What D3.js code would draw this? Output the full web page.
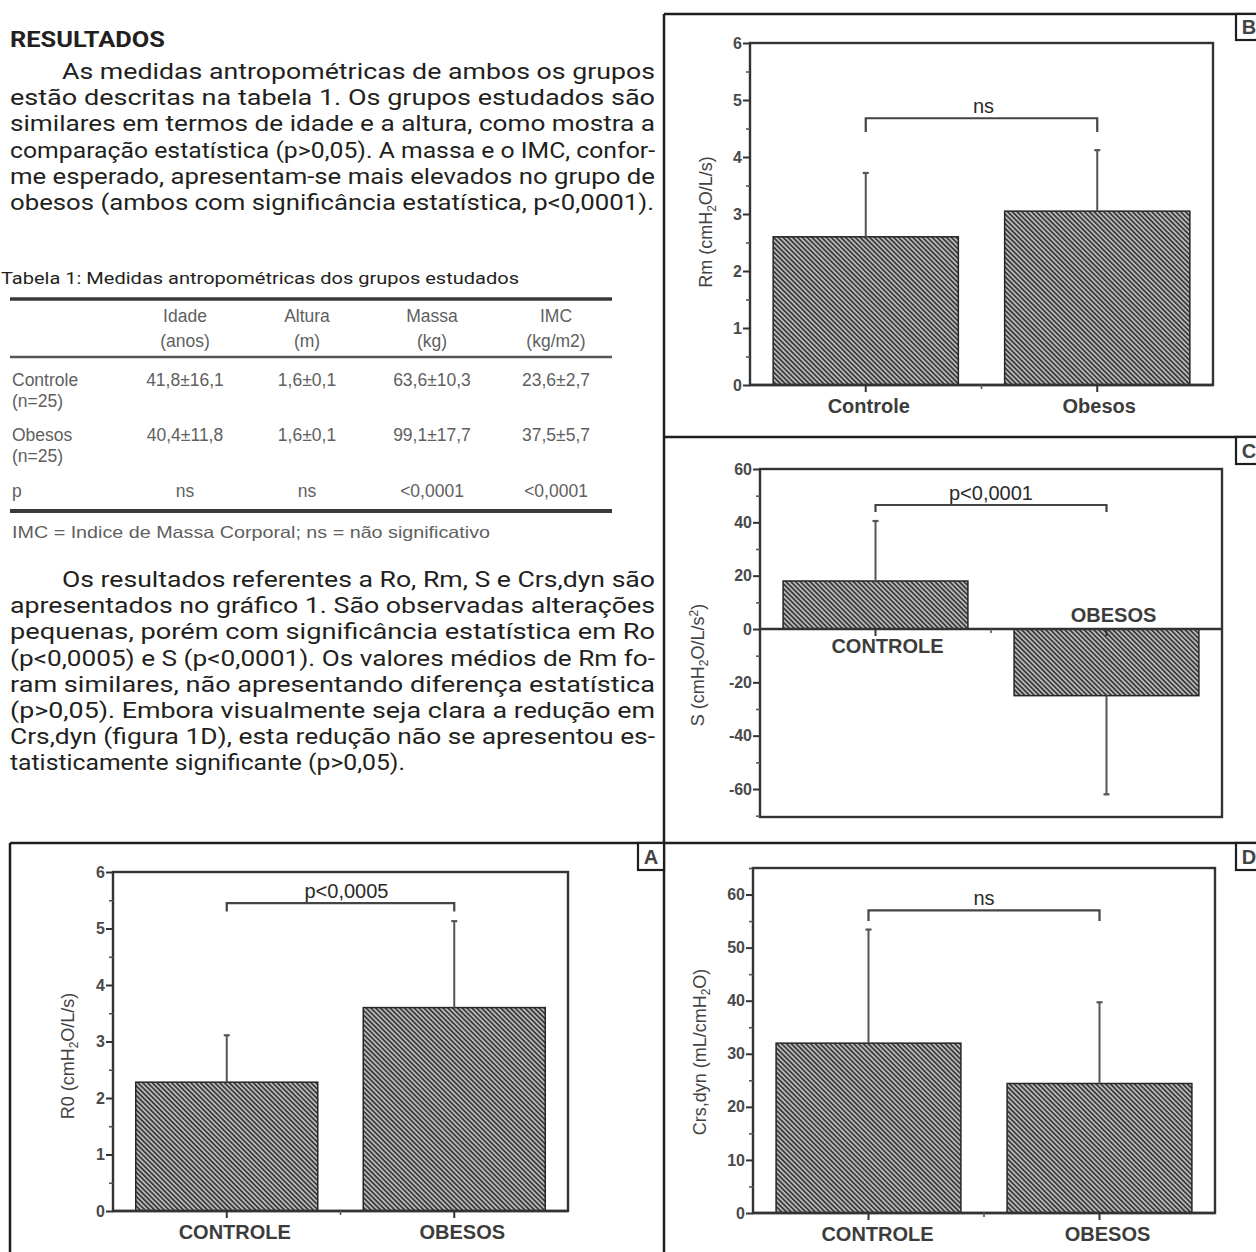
<!DOCTYPE html>
<html><head><meta charset="utf-8">
<script src="https://cdn.jsdelivr.net/npm/d3@7"></script>
<style>body{margin:0;background:#fff}</style>
</head><body>
<svg id="page" width="1256" height="1252" xmlns="http://www.w3.org/2000/svg"></svg>
<script>
// ---------------- DATA ----------------
const categoriesUpper = ["CONTROLE", "OBESOS"];
const categoriesMixed = ["Controle", "Obesos"];

const roMeans  = [2.28, 3.60];   const roSD  = [0.83, 1.53];
const rmMeans  = [2.60, 3.05];   const rmSD  = [1.12, 1.07];
const sMeans   = [18, -25];      const sSD   = [22.5, 37];
const crsMeans = [32, 24.4];     const crsSD = [21.4, 15.3];

const ticksR   = [0, 1, 2, 3, 4, 5, 6];
const minorR   = [0.5, 1.5, 2.5, 3.5, 4.5, 5.5];
const ticksS   = [-60, -40, -20, 0, 20, 40, 60];
const minorS   = [-70, -50, -30, -10, 10, 30, 50];
const ticksCrs = [0, 10, 20, 30, 40, 50, 60];
const minorCrs = [5, 15, 25, 35, 45, 55, 65];

const sigA = "p<0,0005", sigB = "ns", sigC = "p<0,0001", sigD = "ns";
const bracketA = [5.45, 5.3], bracketB = [4.68, 4.44], bracketC = [46.5, 43.9], bracketD = [57, 55];

const para1Title = "RESULTADOS";
const para1Lines = [
  "As medidas antropométricas de ambos os grupos",
  "estão descritas na tabela 1. Os grupos estudados são",
  "similares em termos de idade e a altura, como mostra a",
  "comparação estatística (p>0,05). A massa e o IMC, confor-",
  "me esperado, apresentam-se mais elevados no grupo de",
  "obesos (ambos com significância estatística, p<0,0001)."
];
const para2Lines = [
  "Os resultados referentes a Ro, Rm, S e Crs,dyn são",
  "apresentados no gráfico 1. São observadas alterações",
  "pequenas, porém com significância estatística em Ro",
  "(p<0,0005) e S (p<0,0001). Os valores médios de Rm fo-",
  "ram similares, não apresentando diferença estatística",
  "(p>0,05). Embora visualmente seja clara a redução em",
  "Crs,dyn (figura 1D), esta redução não se apresentou es-",
  "tatisticamente significante (p>0,05)."
];
const tableCaption = "Tabela 1: Medidas antropométricas dos grupos estudados";
const tableColumns = ["Idade", "Altura", "Massa", "IMC"];
const tableUnits   = ["(anos)", "(m)", "(kg)", "(kg/m2)"];
const rowLabels    = [["Controle", "(n=25)"], ["Obesos", "(n=25)"], ["p"]];
const controleVals = ["41,8±16,1", "1,6±0,1", "63,6±10,3", "23,6±2,7"];
const obesosVals   = ["40,4±11,8", "1,6±0,1", "99,1±17,7", "37,5±5,7"];
const pVals        = ["ns", "ns", "<0,0001", "<0,0001"];
const tableNote    = "IMC = Indice de Massa Corporal; ns = não significativo";

// ---------------- SETUP ----------------
const svg = d3.select("#page");
svg.append("rect").attr("width", 1256).attr("height", 1252).attr("fill", "#fff");
const defs = svg.append("defs");
const pat = defs.append("pattern").attr("id", "hatch").attr("patternUnits", "userSpaceOnUse")
  .attr("width", 3.4).attr("height", 3.4).attr("patternTransform", "rotate(-45)");
pat.append("rect").attr("width", 3.4).attr("height", 3.4).attr("fill", "#b8b8b8");
pat.append("line").attr("x1", 1.7).attr("x2", 1.7).attr("y1", -1).attr("y2", 5)
  .attr("stroke", "#333").attr("stroke-width", 1.6);

const TEXT_FONT = "Roboto, 'Liberation Sans', sans-serif";
const ARIAL = "'Liberation Sans', Arial, sans-serif";

// ---------------- PARAGRAPHS ----------------
function drawParagraph(lines, startY, lineH, indentX, leftX, rightX, lastW) {
  const g = svg.append("g").attr("font-family", TEXT_FONT).attr("font-size", 22).attr("fill", "#231f20");
  lines.forEach((s, i) => {
    const x0 = i === 0 ? indentX : leftX;
    const w = i === lines.length - 1 ? lastW : rightX - x0;
    g.append("text").attr("x", x0).attr("y", startY + i * lineH)
      .attr("textLength", w).attr("lengthAdjust", "spacingAndGlyphs").text(s);
  });
}
svg.append("text").attr("x", 10).attr("y", 47).attr("font-family", TEXT_FONT)
  .attr("font-size", 22).attr("font-weight", "bold").attr("fill", "#231f20")
  .attr("textLength", 155).attr("lengthAdjust", "spacingAndGlyphs").text(para1Title);
drawParagraph(para1Lines, 79, 26.2, 62, 10, 655, 644);
drawParagraph(para2Lines, 587, 26.2, 62, 10, 655, 395);

// ---------------- TABLE ----------------
svg.append("text").attr("x", 1).attr("y", 284).attr("font-family", TEXT_FONT).attr("font-size", 17)
  .attr("fill", "#231f20").attr("textLength", 518).attr("lengthAdjust", "spacingAndGlyphs").text(tableCaption);
const tg = svg.append("g").attr("font-family", ARIAL).attr("font-size", 17.5).attr("fill", "#606060");
const colX = [185, 307, 432, 556];
tg.append("line").attr("x1", 10).attr("x2", 612).attr("y1", 299).attr("y2", 299).attr("stroke", "#3a3a3a").attr("stroke-width", 3.5);
tg.append("line").attr("x1", 10).attr("x2", 612).attr("y1", 357).attr("y2", 357).attr("stroke", "#555").attr("stroke-width", 2.5);
tg.append("line").attr("x1", 10).attr("x2", 612).attr("y1", 511).attr("y2", 511).attr("stroke", "#3a3a3a").attr("stroke-width", 4);
tableColumns.forEach((c, i) => {
  tg.append("text").attr("x", colX[i]).attr("y", 322).attr("text-anchor", "middle").text(c);
  tg.append("text").attr("x", colX[i]).attr("y", 347).attr("text-anchor", "middle").text(tableUnits[i]);
});
const rowY = [386, 441, 497];
rowLabels.forEach((lab, r) => {
  lab.forEach((s, k) => tg.append("text").attr("x", 12).attr("y", rowY[r] + k * 20.5).text(s));
});
[controleVals, obesosVals, pVals].forEach((vals, r) => {
  vals.forEach((v, i) => tg.append("text").attr("x", colX[i]).attr("y", rowY[r]).attr("text-anchor", "middle").text(v));
});
tg.append("text").attr("x", 12).attr("y", 538).attr("font-size", 16.5).attr("textLength", 478)
  .attr("lengthAdjust", "spacingAndGlyphs").text(tableNote);

// ---------------- FRAMES ----------------
const fr = svg.append("g").attr("stroke", "#1e1e1e").attr("stroke-width", 2.5).attr("fill", "none");
fr.append("line").attr("x1", 664).attr("x2", 1256).attr("y1", 14).attr("y2", 14);
fr.append("line").attr("x1", 664).attr("x2", 664).attr("y1", 14).attr("y2", 1252);
fr.append("line").attr("x1", 664).attr("x2", 1256).attr("y1", 437).attr("y2", 437);
fr.append("line").attr("x1", 10).attr("x2", 1256).attr("y1", 843).attr("y2", 843);
fr.append("line").attr("x1", 10).attr("x2", 10).attr("y1", 843).attr("y2", 1252);
function letterBox(x, y, w, h, letter) {
  svg.append("rect").attr("x", x).attr("y", y).attr("width", w).attr("height", h)
    .attr("fill", "#fff").attr("stroke", "#1e1e1e").attr("stroke-width", 2.2);
  svg.append("text").attr("x", x + 13).attr("y", y + h / 2 + 7).attr("text-anchor", "middle")
    .attr("font-family", ARIAL).attr("font-weight", "bold").attr("font-size", 20).attr("fill", "#444").text(letter);
}
letterBox(1236, 14, 26, 26, "B");
letterBox(1236, 437, 26, 27, "C");
letterBox(1236, 843, 26, 27, "D");
letterBox(638, 843, 26, 27, "A");

// ---------------- CHARTS ----------------
function drawBarChart(cfg) {
  const g = svg.append("g");
  const x = d3.scaleBand().domain(cfg.categories).range([cfg.x0, cfg.x1]).paddingInner(0.2).paddingOuter(0.1);
  const y = d3.scaleLinear().domain(cfg.domain).range([cfg.y1, cfg.y0]);
  const cx = c => x(c) + x.bandwidth() / 2;

  g.selectAll("rect.bar").data(cfg.categories).join("rect").attr("class", "bar")
    .attr("x", d => x(d)).attr("width", x.bandwidth())
    .attr("y", (d, i) => y(Math.max(0, cfg.means[i])))
    .attr("height", (d, i) => Math.abs(y(cfg.means[i]) - y(0)))
    .attr("fill", "url(#hatch)").attr("stroke", "#262626").attr("stroke-width", 1.5);

  cfg.categories.forEach((c, i) => {
    const m = cfg.means[i];
    const e = m >= 0 ? m + cfg.sds[i] : m - cfg.sds[i];
    g.append("line").attr("x1", cx(c)).attr("x2", cx(c)).attr("y1", y(m)).attr("y2", y(e))
      .attr("stroke", "#555").attr("stroke-width", 2);
    g.append("line").attr("x1", cx(c) - 3).attr("x2", cx(c) + 3).attr("y1", y(e)).attr("y2", y(e))
      .attr("stroke", "#555").attr("stroke-width", 2.2);
  });

  g.append("rect").attr("x", cfg.x0).attr("y", cfg.y0).attr("width", cfg.x1 - cfg.x0).attr("height", cfg.y1 - cfg.y0)
    .attr("fill", "none").attr("stroke", "#333").attr("stroke-width", 2.4);
  const y0 = y(0);
  g.append("line").attr("x1", cfg.x0).attr("x2", cfg.x1).attr("y1", y0).attr("y2", y0)
    .attr("stroke", "#333").attr("stroke-width", 2.4);

  const ya = g.append("g").attr("transform", `translate(${cfg.x0},0)`)
    .call(d3.axisLeft(y).tickValues(cfg.ticks).tickSize(7).tickPadding(1).tickFormat(d => String(d)));
  ya.select(".domain").remove();
  ya.selectAll("line").attr("stroke", "#333").attr("stroke-width", 2);
  ya.selectAll("text").attr("font-family", ARIAL).attr("font-size", 16).attr("font-weight", "bold").attr("fill", "#4a4a4a");
  const ym = g.append("g").attr("transform", `translate(${cfg.x0},0)`)
    .call(d3.axisLeft(y).tickValues(cfg.minor).tickSize(4).tickFormat(""));
  ym.select(".domain").remove();
  ym.selectAll("line").attr("stroke", "#555").attr("stroke-width", 1.6);

  cfg.categories.forEach(c => g.append("line").attr("x1", cx(c)).attr("x2", cx(c)).attr("y1", y0).attr("y2", y0 + 7)
    .attr("stroke", "#333").attr("stroke-width", 2));
  const mid = (cx(cfg.categories[0]) + cx(cfg.categories[1])) / 2;
  g.append("line").attr("x1", mid).attr("x2", mid).attr("y1", y0).attr("y2", y0 + 4).attr("stroke", "#555").attr("stroke-width", 1.6);

  cfg.categories.forEach((c, i) => {
    const ly = cfg.flipLabels ? (cfg.means[i] >= 0 ? y0 + 24 : y0 - 7) : y0 + 28;
    g.append("text").attr("x", cx(c) + cfg.labelDx[i]).attr("y", ly).attr("text-anchor", "middle")
      .attr("font-family", ARIAL).attr("font-weight", "bold").attr("font-size", 20).attr("fill", "#3c3c3c").text(c);
  });

  const bx0 = cx(cfg.categories[0]), bx1 = cx(cfg.categories[1]);
  g.append("path").attr("d", `M${bx0},${y(cfg.bracket[1])}V${y(cfg.bracket[0])}H${bx1}V${y(cfg.bracket[1])}`)
    .attr("fill", "none").attr("stroke", "#444").attr("stroke-width", 2.2);
  g.append("text").attr("x", (bx0 + bx1) / 2 + cfg.sigDx).attr("y", y(cfg.bracket[0]) - 5).attr("text-anchor", "middle")
    .attr("font-family", ARIAL).attr("font-size", 20).attr("fill", "#2a2a2a").text(cfg.sig);

  const t = g.append("text").attr("transform", `translate(${cfg.titleX},${cfg.titleY}) rotate(-90)`)
    .attr("text-anchor", "middle").attr("font-family", ARIAL).attr("font-size", 18).attr("fill", "#444");
  cfg.title.forEach(p => {
    const ts = t.append("tspan").text(p.t);
    if (p.s === "sub") ts.attr("dy", 4).attr("font-size", 12);
    if (p.s === "sup") ts.attr("dy", -6).attr("font-size", 12);
    if (p.s === "back") ts.attr("dy", -4);
    if (p.s === "backsup") ts.attr("dy", 6);
  });
}

drawBarChart({ x0: 113, x1: 568, y0: 872, y1: 1211, domain: [0, 6], ticks: ticksR, minor: minorR,
  categories: categoriesUpper, means: roMeans, sds: roSD, bracket: bracketA, sig: sigA, sigDx: 6,
  labelDx: [8, 8], flipLabels: false, titleX: 74, titleY: 1056,
  title: [{ t: "R0 (cmH" }, { t: "2", s: "sub" }, { t: "O/L/s)", s: "back" }] });

drawBarChart({ x0: 750, x1: 1213, y0: 43, y1: 385, domain: [0, 6], ticks: ticksR, minor: minorR,
  categories: categoriesMixed, means: rmMeans, sds: rmSD, bracket: bracketB, sig: sigB, sigDx: 2,
  labelDx: [3, 2], flipLabels: false, titleX: 712, titleY: 222,
  title: [{ t: "Rm (cmH" }, { t: "2", s: "sub" }, { t: "O/L/s)", s: "back" }] });

drawBarChart({ x0: 760, x1: 1222, y0: 469, y1: 817, domain: [-70.5, 60], ticks: ticksS, minor: minorS,
  categories: categoriesUpper, means: sMeans, sds: sSD, bracket: bracketC, sig: sigC, sigDx: 0,
  labelDx: [12, 7], flipLabels: true, titleX: 704, titleY: 665,
  title: [{ t: "S (cmH" }, { t: "2", s: "sub" }, { t: "O/L/s", s: "back" }, { t: "2", s: "sup" }, { t: ")", s: "backsup" }] });

drawBarChart({ x0: 753, x1: 1215, y0: 868, y1: 1213, domain: [0, 65], ticks: ticksCrs, minor: minorCrs,
  categories: categoriesUpper, means: crsMeans, sds: crsSD, bracket: bracketD, sig: sigD, sigDx: 0,
  labelDx: [9, 8], flipLabels: false, titleX: 706, titleY: 1052,
  title: [{ t: "Crs,dyn (mL/cmH" }, { t: "2", s: "sub" }, { t: "O)", s: "back" }] });
</script>
</body></html>
